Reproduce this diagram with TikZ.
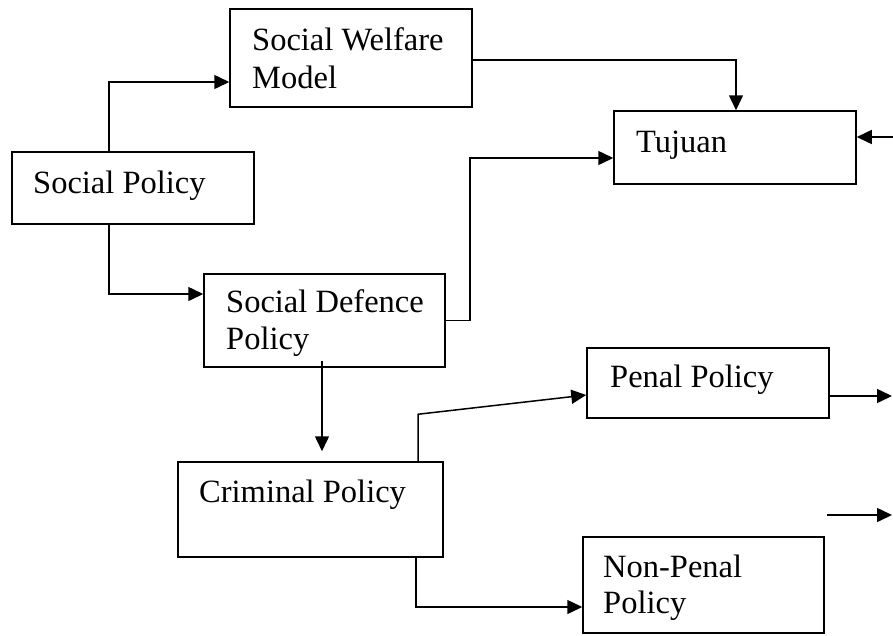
\documentclass[tikz,border=0pt]{standalone}
\usepackage{fontspec}
\setmainfont{Liberation Serif}
\usetikzlibrary{arrows.meta}
\begin{document}
\begin{tikzpicture}[x=1pt,y=-1pt,
  box/.style={draw, line width=1.5pt, inner sep=0pt, rectangle},
  lbl/.style={anchor=base west, inner sep=0pt, font=\fontsize{32.5}{38}\selectfont},
  arr/.style={draw, line width=1.5pt, -{Triangle[length=15pt,width=14pt]}}]
\useasboundingbox (0,0) rectangle (893,635);
% boxes
\node[box, minimum width=242pt, minimum height=72pt] (sp)   at (133,188) {};
\node[box, minimum width=242pt, minimum height=98pt] (swm)  at (351,58) {};
\node[box, minimum width=241pt, minimum height=93pt] (sdp)  at (324.5,320.5) {};
\node[box, minimum width=242pt, minimum height=73pt] (tuj)  at (735,147.5) {};
\node[box, minimum width=265pt, minimum height=95pt] (crim) at (310.5,509.5) {};
\node[box, minimum width=242pt, minimum height=70pt] (pen)  at (708,383) {};
\node[box, minimum width=241pt, minimum height=96pt] (np)   at (703.5,585) {};
% labels
\node[lbl] (tsp)   at (33,193) {Social Policy};
\node[lbl] (tswm1) at (252,50) {Social Welfare};
\node[lbl] (tswm2) at (252,88) {Model};
\node[lbl] (tsdp1) at (226,312) {Social Defence};
\node[lbl] (tsdp2) at (226,349) {Policy};
\node[lbl] (ttuj)  at (636,152) {Tujuan};
\node[lbl] (tcrim) at (199,502) {Criminal Policy};
\node[lbl] (tpen)  at (610,387) {Penal Policy};
\node[lbl] (tnp1)  at (603,577) {Non-Penal};
\node[lbl] (tnp2)  at (603,613) {Policy};
% free ends
\coordinate (in1)  at (893,137);
\coordinate (out1) at (892,396);
\coordinate (fs)   at (827,515);
\coordinate (fe)   at (892,515);
% connectors
\draw[arr] ([xshift=-24pt]sp.north) |- ([yshift=-24pt]swm.west);
\draw[arr] ([xshift=-24pt]sp.south) |- ([yshift=26.5pt]sdp.west);
\draw[arr] ([yshift=-2pt]swm.east) -| ([xshift=1pt]tuj.north);
\draw[arr] (sdp.east) -- ++(24,0) |- ([yshift=-10.5pt]tuj.west);
\draw[arr] (in1) -- ([yshift=10.5pt]tuj.east);
\draw[arr, shorten >=10pt] ([xshift=-2.5pt,yshift=7pt]sdp.south) -- ([xshift=-2.5pt]sdp.south |- crim.north);
\draw[arr] ([xshift=107.5pt]crim.north) -- ++(0,-47) -- ([yshift=-12pt]pen.west);
\draw[arr] ([yshift=-13pt]pen.east) -- (out1);
\draw[arr] (fs) -- (fe);
\draw[arr] ([xshift=105.5pt]crim.south) |- ([yshift=-22pt]np.west);
\end{tikzpicture}
\end{document}
